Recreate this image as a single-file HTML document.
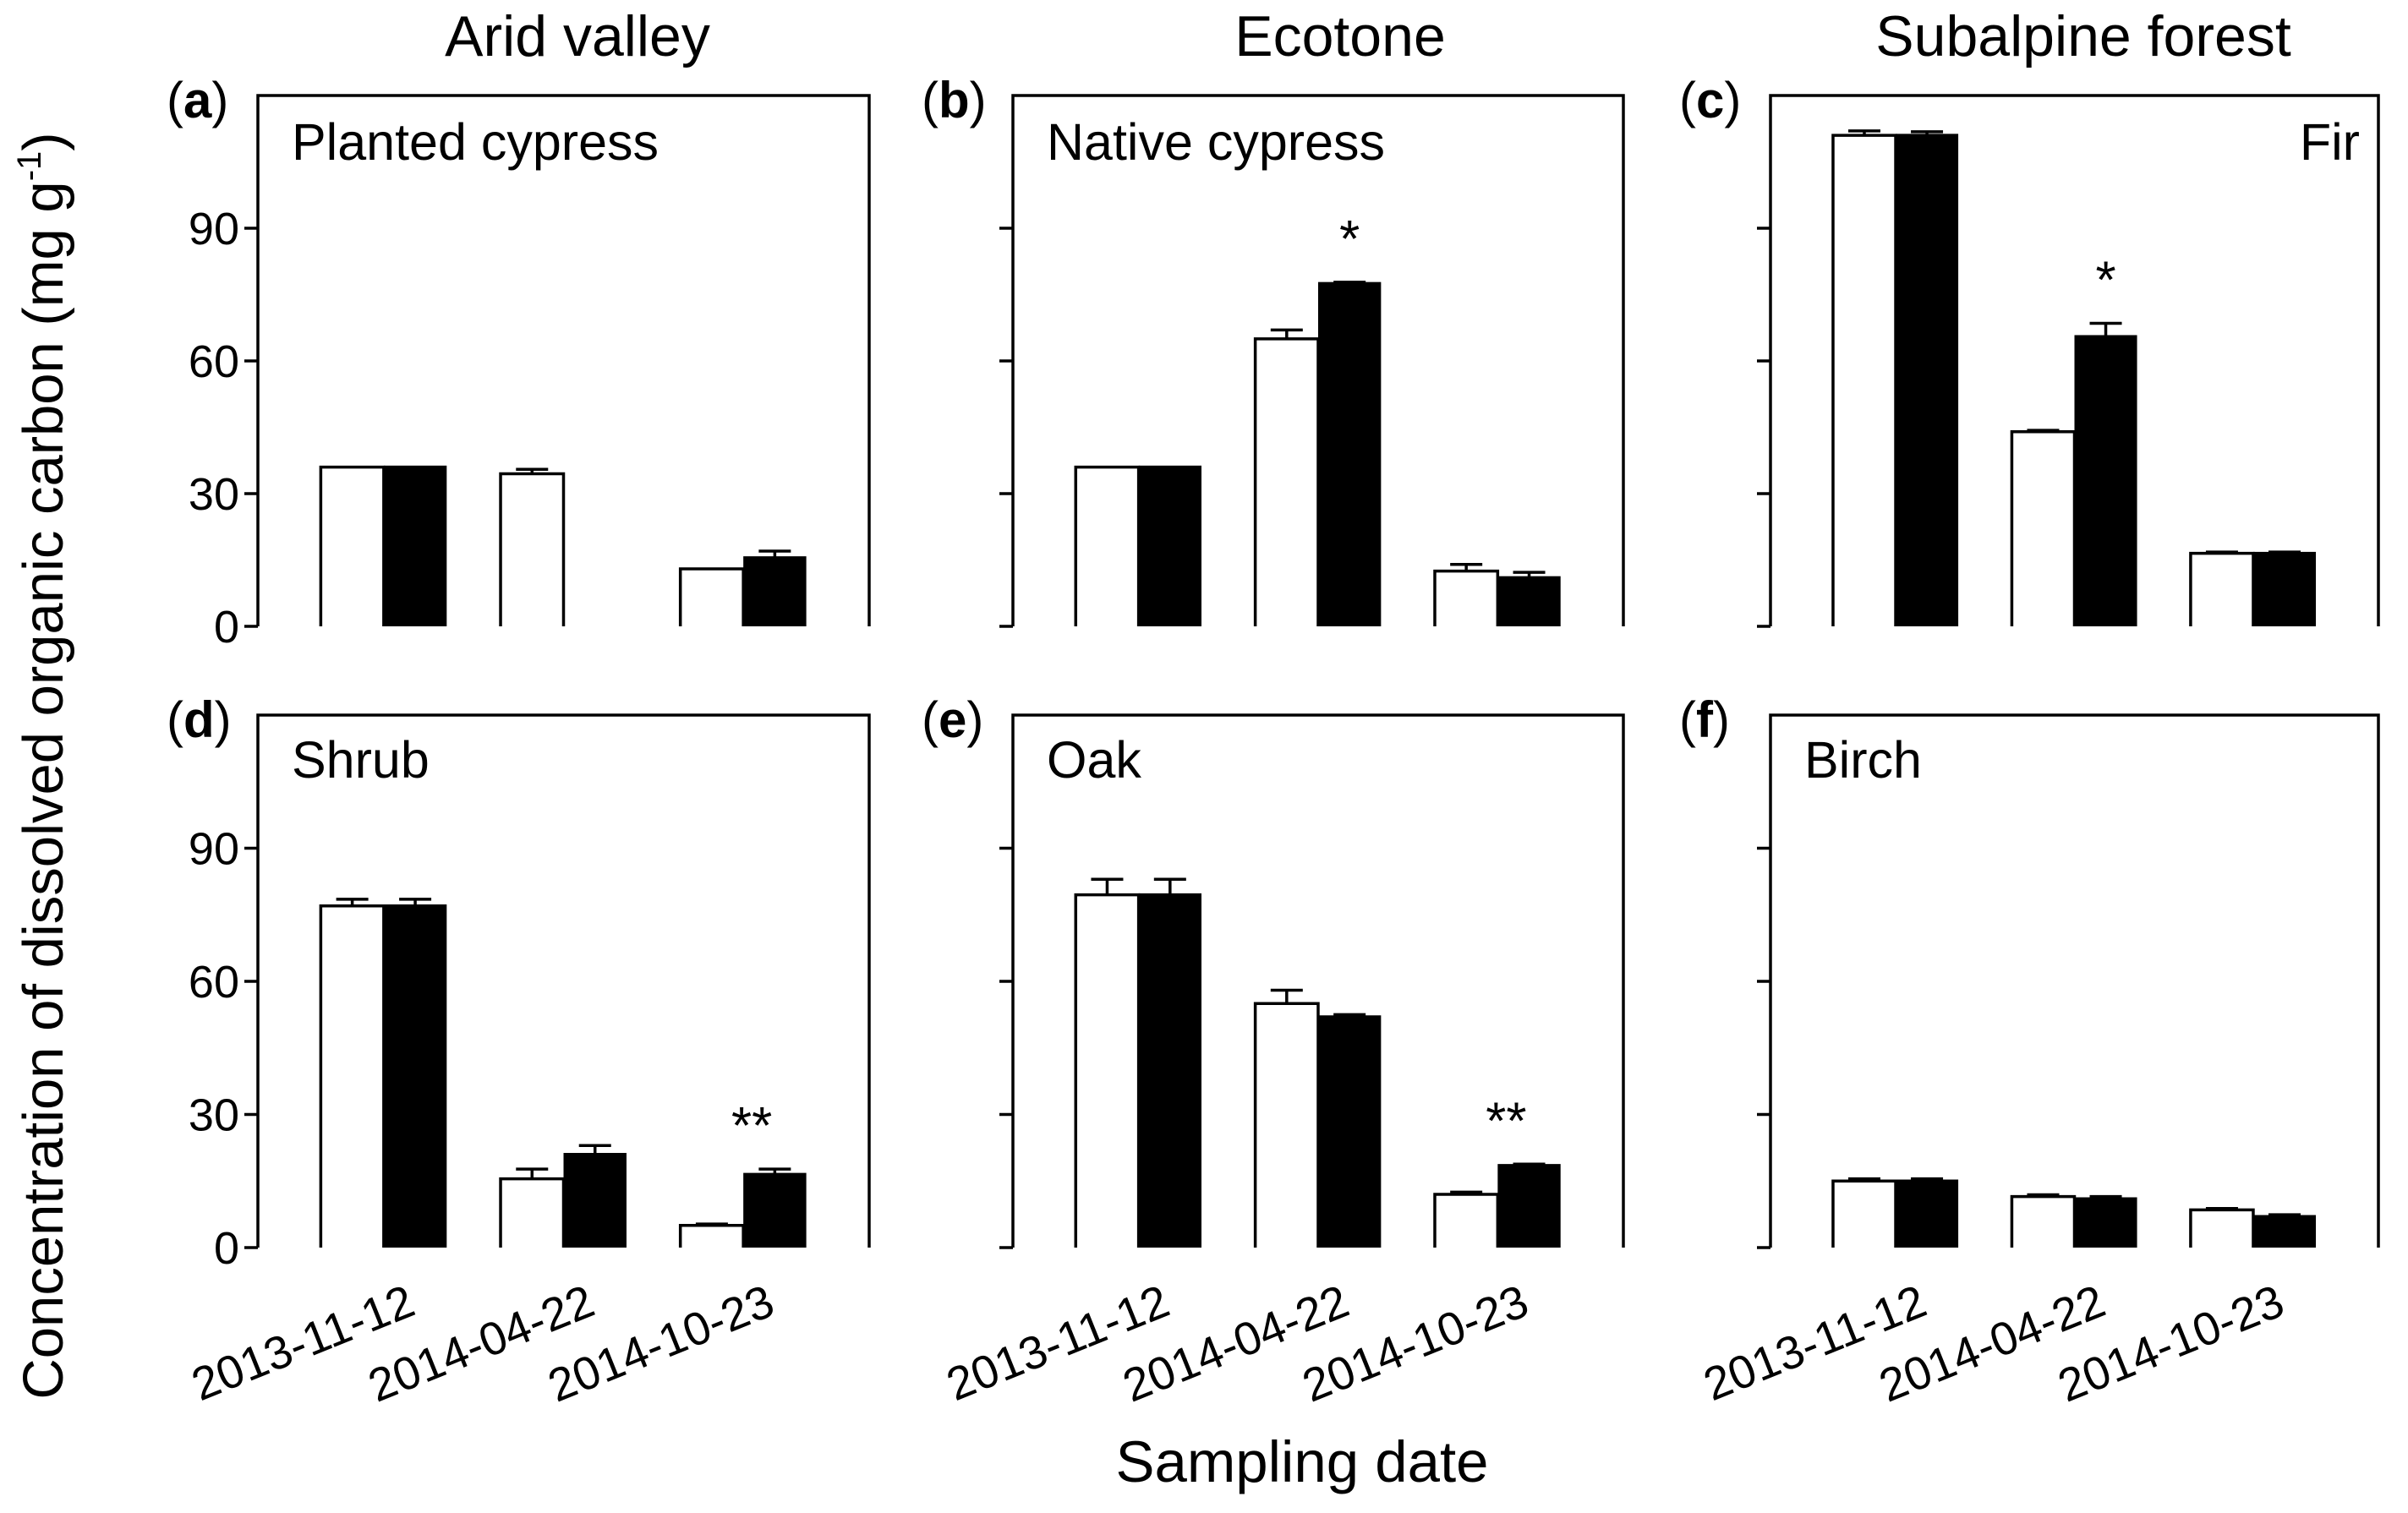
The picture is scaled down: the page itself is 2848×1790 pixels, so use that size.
<!DOCTYPE html>
<html><head><meta charset="utf-8"><style>
html,body{margin:0;padding:0;background:#fff;}
svg{display:block;font-family:"Liberation Sans",Arial,sans-serif;}
</style></head><body>
<svg id="chart" width="2848" height="1790" viewBox="0 0 2848 1790"></svg>
<script>
const categories = ["2013-11-12","2014-04-22","2014-10-23"];
const yTicks = [0,30,60,90];
const panelIds = ["a","b","c","d","e","f"];
const panelNames = ["Planted cypress","Native cypress","Fir","Shrub","Oak","Birch"];
const columnTitles = ["Arid valley","Ecotone","Subalpine forest"];
const whiteA=[36,34.5,13],   blackA=[36,0,15.5];
const whiteB=[36,65,12.5],   blackB=[36,77.5,11];
const whiteC=[111,44,16.5],  blackC=[111,65.5,16.5];
const whiteD=[77,15.5,5],    blackD=[77,21,16.5];
const whiteE=[79.5,55,12],   blackE=[79.5,52,18.5];
const whiteF=[15,11.5,8.5],  blackF=[15,11,7];
const errWhiteA=[0,1,0],     errBlackA=[0,0,1.5];
const errWhiteB=[0,2,1.5],   errBlackB=[0,0.3,1.2];
const errWhiteC=[1,0.3,0.3], errBlackC=[0.8,3,0.3];
const errWhiteD=[1.5,2.2,0.3], errBlackD=[1.5,2,1.2];
const errWhiteE=[3.5,3,0.5], errBlackE=[3.5,0.5,0.3];
const errWhiteF=[0.5,0.4,0.3], errBlackF=[0.5,0.5,0.4];
const sigMarks = [["","",""],["","*",""],["","*",""],["","","**"],["","","**"],["","",""]];
const whiteVals=[whiteA,whiteB,whiteC,whiteD,whiteE,whiteF];
const blackVals=[blackA,blackB,blackC,blackD,blackE,blackF];
const whiteErrs=[errWhiteA,errWhiteB,errWhiteC,errWhiteD,errWhiteE,errWhiteF];
const blackErrs=[errBlackA,errBlackB,errBlackC,errBlackD,errBlackE,errBlackF];
const yMax = 120;

const NS="http://www.w3.org/2000/svg";
const svg=document.getElementById('chart');
function mk(tag,attrs,parent,text){const e=document.createElementNS(NS,tag);for(const k in attrs)e.setAttribute(k,attrs[k]);if(text!==undefined)e.textContent=text;(parent||svg).appendChild(e);return e;}

const colX=[[305,1028],[1198,1920],[2094,2813]];
const rowY=[[113,741],[846,1476]];
const titleX=[683,1585,2464];
const SW=3.5;

columnTitles.forEach((t,i)=>{
  const el=mk('text',{x:titleX[i],y:66,'font-size':68,'text-anchor':'middle'},svg,t);
  
  
});

for(let p=0;p<6;p++){
  const col=p%3,row=Math.floor(p/3);
  const x0=colX[col][0],x1=colX[col][1],yTop=rowY[row][0],y0=rowY[row][1];
  const W=x1-x0;
  const g=mk('g',{});
  
  
  const ys=v=>y0-(v/yMax)*(y0-yTop);
  const xc=i=>x0+W*(i+0.7)/3.4;
  const bw=W*0.103;
  const fr=mk('path',{d:`M${x0},${y0} L${x0},${yTop} L${x1},${yTop} L${x1},${y0}`,fill:'none',stroke:'#000','stroke-width':SW},g);
  
  
  yTicks.forEach(t=>{
    const tk=mk('line',{x1:x0-16,x2:x0,y1:ys(t),y2:ys(t),stroke:'#000','stroke-width':SW},g);
    
    
    if(col===0){
      const tl=mk('text',{x:x0-22,y:ys(t)+19,'font-size':54,'text-anchor':'end'},g,String(t));
      
      
    }
  });
  const pl=mk('text',{x:x0-108,y:yTop+26,'font-size':60},g);
  
  
  mk('tspan',{},pl,'(');mk('tspan',{'font-weight':'bold'},pl,panelIds[p]);mk('tspan',{},pl,')');
  const isRight=(p===2);
  const nl=mk('text',{x:isRight?x1-22:x0+40,y:yTop+(row===0?76:74),'font-size':61,'text-anchor':isRight?'end':'start'},g,panelNames[p]);
  
  
  for(let i=0;i<3;i++){
    const wv=whiteVals[p][i],bv=blackVals[p][i];
    const c=xc(i);
    const wx=c-bw,bx=c;
    [[wx,wv,whiteErrs[p][i]],[bx,bv,blackErrs[p][i]]].forEach(([bx0,v,e])=>{
      if(v>0&&e>0){
        const cx=bx0+bw/2;
        const eb=mk('path',{d:`M${cx},${ys(v)} L${cx},${ys(v+e)} M${cx-19},${ys(v+e)} L${cx+19},${ys(v+e)}`,stroke:'#000','stroke-width':SW,fill:'none'},g);
        
        
      }
    });
    if(wv>0){
      const r=mk('path',{d:`M${wx},${y0} L${wx},${ys(wv)} L${wx+bw},${ys(wv)} L${wx+bw},${y0}`,fill:'#fff',stroke:'#000','stroke-width':SW},g);
      
      
    }
    if(bv>0){
      const r=mk('rect',{x:bx,y:ys(bv)-SW/2,width:bw,height:y0-ys(bv)+SW/2,fill:'#000'},g);
      
      
    }
    const s=sigMarks[p][i];
    if(s){
      const top=Math.max(wv+whiteErrs[p][i],bv+blackErrs[p][i]);
      const st=mk('text',{x:s.length>1?c+10:c+bw/2,y:ys(top)-30,'font-size':62,'text-anchor':'middle'},g,s);
      
      
    }
    if(row===1){
      const lx=c+40,ly=y0+78;
      const dl=mk('text',{x:lx,y:ly,'font-size':55,'text-anchor':'end',transform:`rotate(-22 ${lx} ${ly})`},g,categories[i]);
      
      
    }
  }
}
const yt=mk('text',{x:0,y:0,'font-size':67,'text-anchor':'middle',transform:'translate(74 906) rotate(-90)'});


mk('tspan',{},yt,'Concentration of dissolved organic carbon (mg g');
mk('tspan',{'font-size':40,dy:-26},yt,'-1');
mk('tspan',{dy:26},yt,')');
const xt=mk('text',{x:1540,y:1753,'font-size':69,'text-anchor':'middle'},svg,'Sampling date');


</script>
</body></html>
